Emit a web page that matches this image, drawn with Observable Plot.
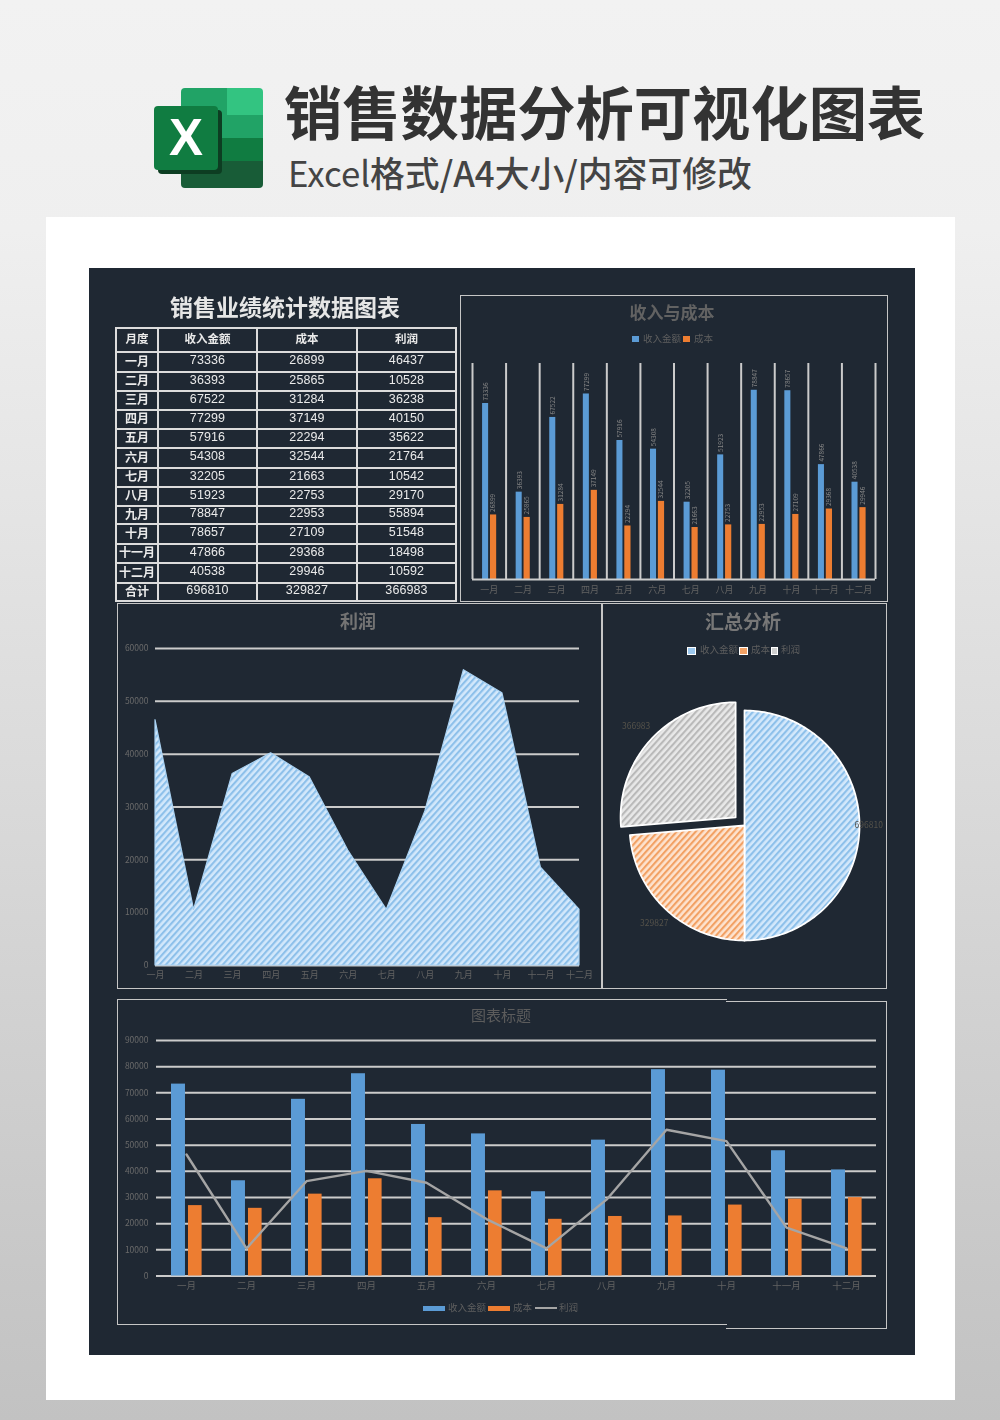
<!DOCTYPE html>
<html lang="zh">
<head>
<meta charset="utf-8">
<script src="https://cdn.jsdelivr.net/npm/d3@7"></script>
<script src="https://cdn.jsdelivr.net/npm/@observablehq/plot@0.6"></script>
<style>
html,body{margin:0;padding:0;width:1000px;height:1420px;overflow:hidden}
body{background:linear-gradient(180deg,#f2f2f2 0,#efefef 230px,#c2c2c2 1420px);font-family:"Noto Sans CJK SC","Noto Sans",sans-serif}
.abs,#page>*{position:absolute}
#page{position:absolute;left:0;top:0;width:1000px;height:1420px}
#card{left:46px;top:217px;width:909px;height:1183px;background:#fff}
#panel{left:89px;top:268px;width:826px;height:1087px;background:#1f2833;filter:blur(.6px);overflow:hidden}
#canvas{position:absolute;left:-89px;top:-268px;width:1000px;height:1420px}
#canvas>*{position:absolute}
#title{left:284px;top:74px;font-size:58.3px;line-height:72px;font-weight:700;color:#333;white-space:nowrap}
#subtitle{left:288px;top:151px;font-size:34.8px;line-height:42px;font-weight:500;color:#444;white-space:nowrap}
#subtitle span{font-weight:400}
.frame{box-sizing:border-box;border:1.7px solid #c6c6c6}
.ctitle{transform:translateX(-50%);white-space:nowrap;font-weight:700;line-height:1}
.lg{font-size:9.5px;line-height:1;color:#5f5f5f;white-space:nowrap}
.sw{display:block}
#tableTitle{left:285px;top:293px;transform:translateX(-50%);font-size:23px;line-height:1.15;font-weight:700;color:#e6e6e6;white-space:nowrap}
#tbl{left:115px;top:327px;width:340px;border-collapse:collapse;table-layout:fixed;color:#eaeaea;font-size:11.5px}
#tbl td,#tbl th{border:2px solid #dcdcdc;padding:0 0 3px;text-align:center;overflow:hidden;white-space:nowrap;line-height:1}
#tbl th{font-weight:700}
#tbl td:first-child{font-weight:700;font-size:12px}
#tbl td:not(:first-child){font-family:"Liberation Sans",sans-serif;font-size:12.5px;letter-spacing:.1px}
svg text{font-family:"Noto Sans CJK SC","Noto Sans",sans-serif}
</style>
</head>
<body>
<svg width="0" height="0" style="position:absolute">
  <defs>
    <pattern id="hatchBlue" width="4.7" height="4.7" patternUnits="userSpaceOnUse" patternTransform="rotate(42)">
      <rect width="4.7" height="4.7" fill="#d3e8fb"/><rect width="2.1" height="4.7" fill="#8dc0ea"/>
    </pattern>
    <pattern id="hatchOrange" width="4.7" height="4.7" patternUnits="userSpaceOnUse" patternTransform="rotate(42)">
      <rect width="4.7" height="4.7" fill="#fde3cf"/><rect width="2.1" height="4.7" fill="#f2a164"/>
    </pattern>
    <pattern id="hatchGray" width="4.7" height="4.7" patternUnits="userSpaceOnUse" patternTransform="rotate(42)">
      <rect width="4.7" height="4.7" fill="#e8e8e8"/><rect width="2.1" height="4.7" fill="#b9b9b9"/>
    </pattern>
  </defs>
</svg>
<div id="page">
  <div id="card"></div>
  <svg id="logo" style="left:150px;top:84px" width="118" height="108" viewBox="150 84 118 108">
    <defs><clipPath id="sheet"><rect x="181" y="88" width="82" height="100" rx="4"/></clipPath></defs>
    <g clip-path="url(#sheet)">
      <rect x="181" y="88" width="46" height="50" fill="#21a366"/>
      <rect x="227" y="88" width="36" height="27" fill="#33c481"/>
      <rect x="227" y="115" width="36" height="23" fill="#21a366"/>
      <rect x="181" y="138" width="82" height="23" fill="#107c41"/>
      <rect x="181" y="161" width="82" height="27" fill="#185c37"/>
    </g>
    <rect x="158" y="110" width="64" height="64" rx="4" fill="#0d3d22"/>
    <rect x="154" y="106" width="64" height="64" rx="4" fill="#107c41"/>
    <text x="186" y="155" text-anchor="middle" font-size="51" font-weight="700" fill="#fff" style="font-family:'Liberation Sans',sans-serif">X</text>
  </svg>
  <div id="title">销售数据分析可视化图表</div>
  <div id="subtitle"><span>Excel</span>格式/A4大小/内容可修改</div>
  <div id="panel"><div id="canvas"></div></div>
</div>
<script>
// ---- data ----
const months = ["一月","二月","三月","四月","五月","六月","七月","八月","九月","十月","十一月","十二月"];
const income = [73336,36393,67522,77299,57916,54308,32205,51923,78847,78657,47866,40538];
const cost   = [26899,25865,31284,37149,22294,32544,21663,22753,22953,27109,29368,29946];
const profit = [46437,10528,36238,40150,35622,21764,10542,29170,55894,51548,18498,10592];
const totalLabel = "合计";
const totals = [696810,329827,366983];
const seriesNames = ["收入金额","成本","利润"];
const tableHead = ["月度","收入金额","成本","利润"];
const barTicks = [0,10000,20000,30000,40000,50000,60000,70000,80000,90000];
const areaTicks = [0,10000,20000,30000,40000,50000,60000];
const pieLabelRadius = [1.08,1.16,1.28];
const pieExplode = [0,0,0.105];

// ---- style ----
const BLUE="#5b9bd5", ORANGE="#ed7d31", GRAY="#a5a5a5", GRID="#cbcbcb", TICK="#6a6a6a", GW=2;
const plain = d => String(d);
const rows = months.map((month,i)=>({month,income:income[i],cost:cost[i],profit:profit[i]}));
const canvas = document.getElementById("canvas");

function el(cls,css,html,tag="div"){const e=document.createElement(tag);if(cls)e.className=cls;e.style.cssText=css;if(html!=null)e.innerHTML=html;canvas.appendChild(e);return e;}
function place(svg,left,top){svg.style.position="absolute";svg.style.left=left+"px";svg.style.top=top+"px";svg.style.background="transparent";svg.style.overflow="visible";canvas.appendChild(svg);}
function swatch(l,t,w,h,bg,extra=""){el("sw",`left:${l}px;top:${t}px;width:${w}px;height:${h}px;background:${bg};${extra}`);}
function label(l,t,text){el("lg",`left:${l}px;top:${t}px`,text);}

// ---- frames ----
const frames=[[460,295,428,307],[117,603,485,386],[602,603,285,386],[117,999,610,326],[726,1001,161,328]];
frames.forEach(([l,t,w,h],i)=>el("frame",`left:${l}px;top:${t}px;width:${w}px;height:${h}px;`+(i===3?"border-right:0;":i===4?"border-left:0;":"")));

// ---- table ----
el("", "", "销售业绩统计数据图表").id="tableTitle";
const tbl = el("", "", null, "table"); tbl.id="tbl";
const colW=[42,99,100,99];
const rowH=[24,20,19,19,19,19,20,19,19,18,20,19,20,18];
tbl.innerHTML = `<colgroup>${colW.map(w=>`<col style="width:${w}px">`).join("")}</colgroup>`+
  `<tr style="height:${rowH[0]}px">${tableHead.map(h=>`<th>${h}</th>`).join("")}</tr>`+
  rows.map((r,i)=>`<tr style="height:${rowH[i+1]}px"><td>${r.month}</td><td>${r.income}</td><td>${r.cost}</td><td>${r.profit}</td></tr>`).join("")+
  `<tr style="height:${rowH[13]}px"><td>${totalLabel}</td>${totals.map(v=>`<td>${v}</td>`).join("")}</tr>`;

// ---- top right: income vs cost ----
{
  const W=428,H=307,ml=12,mr=13,mt=68,mb=23,band=(W-ml-mr)/12;
  const svg=Plot.plot({width:W,height:H,marginLeft:ml,marginRight:mr,marginTop:mt,marginBottom:mb,
    x:{type:"band",domain:months,padding:0,round:false,axis:null},
    y:{domain:[0,90000],axis:null},
    marks:[
      Plot.ruleX(months,{x:d=>d,dx:-band/2,stroke:GRID,strokeWidth:GW}),
      Plot.ruleX(months.slice(-1),{x:d=>d,dx:band/2,stroke:GRID,strokeWidth:GW}),
      Plot.barY(rows,{x:"month",y:"income",fill:BLUE,insetLeft:band*.3,insetRight:band*.52}),
      Plot.barY(rows,{x:"month",y:"cost",fill:ORANGE,insetLeft:band*.535,insetRight:band*.28}),
      Plot.ruleY([0],{stroke:GRID,strokeWidth:GW}),
      Plot.text(rows,{x:"month",y:"income",text:d=>plain(d.income),rotate:-90,textAnchor:"start",dx:-band*.1,dy:-3,fontSize:6.5,fill:"#858585"}),
      Plot.text(rows,{x:"month",y:"cost",text:d=>plain(d.cost),rotate:-90,textAnchor:"start",dx:band*.12,dy:-3,fontSize:6.5,fill:"#858585"}),
      Plot.axisX({domain:months,tickSize:0,tickPadding:7,fontSize:9,fill:"#626262",label:null})
    ]});
  place(svg,460,295);
}
el("ctitle","left:672px;top:303px;font-size:17px;color:#626262","收入与成本");
swatch(632,336,7,6,BLUE); label(643,334,seriesNames[0]);
swatch(683,336,7,6,ORANGE); label(694,334,seriesNames[1]);

// ---- area: profit ----
{
  const svg=Plot.plot({width:485,height:386,marginLeft:38,marginRight:23,marginTop:45,marginBottom:24,
    x:{type:"point",domain:months,padding:0,round:false,axis:null},
    y:{domain:[0,60000],axis:null},
    marks:[
      Plot.ruleY(areaTicks,{stroke:GRID,strokeWidth:GW}),
      Plot.areaY(rows,{x:"month",y:"profit",fill:"url(#hatchBlue)",stroke:"#a9d2f3",strokeWidth:1.2}),
      Plot.axisX({domain:months,tickSize:0,tickPadding:6,fontSize:9,fill:"#626262",label:null}),
      Plot.axisY({ticks:areaTicks,tickFormat:plain,tickSize:0,tickPadding:7,fontSize:8.5,fill:TICK,label:null})
    ]});
  place(svg,117,603);
}
el("ctitle","left:358px;top:611px;font-size:18px;color:#747474","利润");

// ---- pie: totals ----
{
  const fills=["url(#hatchBlue)","url(#hatchOrange)","url(#hatchGray)"];
  const arcs=d3.pie().sort(null)(totals);
  const pts=(a,i)=>{
    const m=(a.startAngle+a.endAngle)/2,ox=pieExplode[i]*Math.sin(m),oy=pieExplode[i]*Math.cos(m);
    const out=[{x:ox,y:oy}];
    const n=Math.ceil((a.endAngle-a.startAngle)*40);
    for(let k=0;k<=n;k++){const t=a.startAngle+(a.endAngle-a.startAngle)*k/n;out.push({x:ox+Math.sin(t),y:oy+Math.cos(t)});}
    out.push({x:ox,y:oy});
    return out;
  };
  const labels=arcs.map((a,i)=>{const m=(a.startAngle+a.endAngle)/2;return{x:pieLabelRadius[i]*Math.sin(m),y:pieLabelRadius[i]*Math.cos(m),v:plain(totals[i])};});
  const svg=Plot.plot({width:285,height:386,margin:0,
    x:{domain:[-1,1],range:[744-115-602,744+115-602],axis:null},
    y:{domain:[-1,1],range:[825+115-603,825-115-603],axis:null},
    marks:[
      ...arcs.map((a,i)=>Plot.line(pts(a,i),{x:"x",y:"y",fill:fills[i],stroke:"#fff",strokeWidth:1.8,strokeLinejoin:"round"})),
      Plot.text(labels,{x:"x",y:"y",text:"v",fontSize:8.5,fill:"#55524a"})
    ]});
  place(svg,602,603);
}
el("ctitle","left:743px;top:611px;font-size:19px;color:#777","汇总分析");
swatch(687,647,9,8,"#9cc8ee","border:1px solid #fff;box-sizing:border-box");
label(700,645,seriesNames[0]);
swatch(739,647,9,8,"#f2a164","border:1px solid #fff;box-sizing:border-box");
label(751,645,seriesNames[1]);
swatch(771,647,7,8,"#cfcfcf","border:1px solid #fff;box-sizing:border-box");
label(781,645,seriesNames[2]);

// ---- bottom: combo ----
{
  const W=770,H=326,ml=39,mr=11,mt=41,mb=49.5,band=(W-ml-mr)/12;
  const svg=Plot.plot({width:W,height:H,marginLeft:ml,marginRight:mr,marginTop:mt,marginBottom:mb,
    x:{type:"band",domain:months,padding:0,round:false,axis:null},
    y:{domain:[0,90000],axis:null},
    marks:[
      Plot.ruleY(barTicks,{stroke:GRID,strokeWidth:GW}),
      Plot.barY(rows,{x:"month",y:"income",fill:BLUE,insetLeft:band*.25,insetRight:band*.517}),
      Plot.barY(rows,{x:"month",y:"cost",fill:ORANGE,insetLeft:band*.533,insetRight:band*.24}),
      Plot.line(rows,{x:"month",y:"profit",stroke:GRAY,strokeWidth:2.4}),
      Plot.axisX({domain:months,tickSize:0,tickPadding:6,fontSize:9.5,fill:"#626262",label:null}),
      Plot.axisY({ticks:barTicks,tickFormat:plain,tickSize:0,tickPadding:8,fontSize:8.5,fill:TICK,label:null})
    ]});
  place(svg,117,999);
}
el("ctitle","left:501px;top:1007px;font-size:15px;color:#5c5c5c;font-weight:400","图表标题");
swatch(423,1306,22,5,BLUE); label(448,1303,seriesNames[0]);
swatch(488,1306,22,5,ORANGE); label(513,1303,seriesNames[1]);
swatch(535,1307,22,2,GRAY); label(559,1303,seriesNames[2]);
</script>
</body>
</html>
